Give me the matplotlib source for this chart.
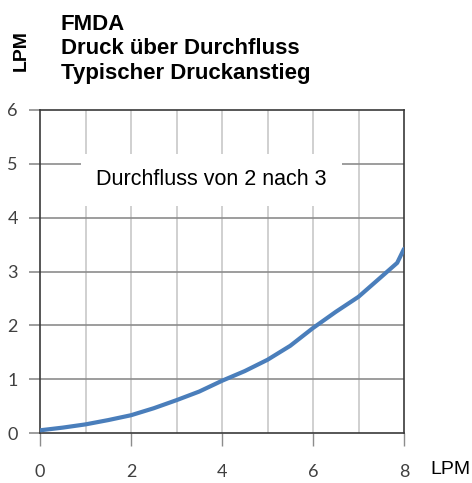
import matplotlib
matplotlib.use("Agg")
import matplotlib.pyplot as plt

# flow (LPM) vs pressure rise
flow = [0, 0.5, 1, 1.5, 2, 2.5, 3, 3.5, 4, 4.5, 5, 5.5, 6, 6.5, 7, 7.5, 7.85, 8]
pressure = [0.05, 0.1, 0.16, 0.24, 0.33, 0.46, 0.61, 0.77, 0.97, 1.15, 1.36, 1.62,
            1.95, 2.25, 2.53, 2.9, 3.16, 3.42]

x_ticks = [0, 2, 4, 6, 8]
y_ticks = [0, 1, 2, 3, 4, 5, 6]
title_lines = ["FMDA", "Druck über Durchfluss", "Typischer Druckanstieg"]
note = "Durchfluss von 2 nach 3"

fig = plt.figure(figsize=(4.72, 4.83), dpi=100)
ax = fig.add_axes([40 / 472, 50 / 483, 364 / 472, 323 / 483])

ax.set_xlim(0, 8)
ax.set_ylim(0, 6)

# grid: light verticals, darker horizontals
for xv in range(1, 8):
    ax.axvline(xv, color="#c8c8c8", lw=1.2, zorder=0)
for yv in range(1, 6):
    ax.axhline(yv, color="#8c8c8c", lw=1.2, zorder=0)

ax.plot(flow, pressure, color="#4a7ebb", lw=3, solid_capstyle="round", zorder=3)

ax.text(3.76, 4.70, note, ha="center", va="center", fontsize=15.5,
        family="Liberation Sans", zorder=2,
        bbox=dict(facecolor="white", edgecolor="none", pad=11))

for s in ax.spines.values():
    s.set_color("#3a3a3a")
    s.set_linewidth(1.2)

ax.set_xticks(x_ticks)
ax.set_yticks(y_ticks)
ax.tick_params(axis="x", direction="out", length=9, width=1, color="#8c8c8c",
               pad=13, labelsize=13, labelcolor="#404040")
ax.tick_params(axis="y", direction="out", length=8, width=1.2, color="#8c8c8c",
               pad=8, labelsize=13, labelcolor="#404040")
for lbl in ax.get_xticklabels() + ax.get_yticklabels():
    lbl.set_family("Lato")

# titles and unit labels
for i, line in enumerate(title_lines):
    fig.text(61 / 472, 1 - (24 + 25 * i) / 483, line, ha="left", va="center",
             fontsize=16, fontweight="bold", family="Liberation Sans")
fig.text(21 / 472, 1 - 51 / 483, "LPM", rotation=90, ha="center", va="center",
         fontsize=14, fontweight="bold", family="Liberation Sans")
fig.text(450 / 472, 1 - 470 / 483, "LPM", ha="center", va="center",
         fontsize=14, family="Liberation Sans")

fig.savefig("out.png", dpi=100)
